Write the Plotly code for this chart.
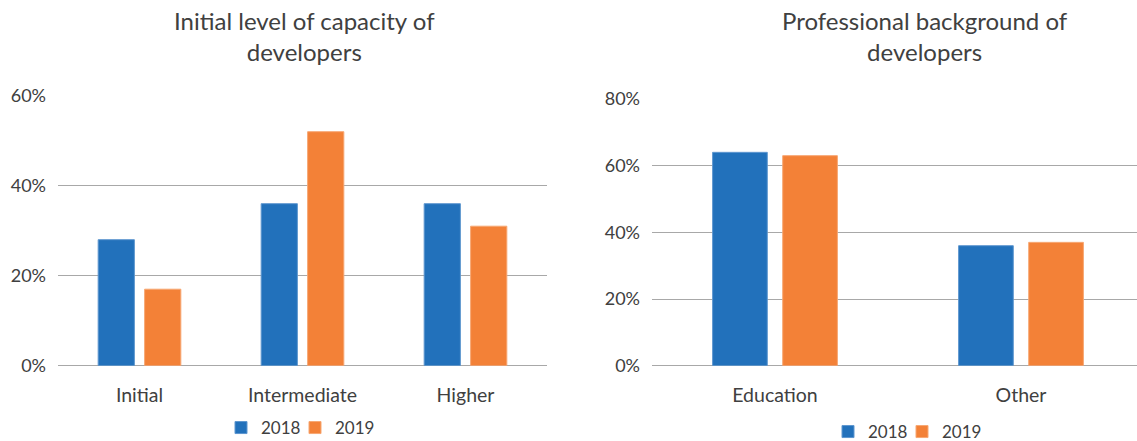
import plotly.graph_objects as go

# Left chart data
cap_categories = ["Initial", "Intermediate", "Higher"]
cap_2018 = [28, 36, 36]
cap_2019 = [17, 52, 31]
cap_ticks = [0, 20, 40, 60]
cap_ticktext = ["0%", "20%", "40%", "60%"]

# Right chart data
bg_categories = ["Education", "Other"]
bg_2018 = [64, 36]
bg_2019 = [63, 37]
bg_ticks = [0, 20, 40, 60, 80]
bg_ticktext = ["0%", "20%", "40%", "60%", "80%"]

left_title = "Initial level of capacity of<br>developers"
right_title = "Professional background of<br>developers"

BLUE = "#2271BB"
ORANGE = "#F38137"
BLUE_EDGE = "#5E97CF"
ORANGE_EDGE = "#F7A773"
FONT = "Lato"
TXT = "#404040"
GRID = "#A8A8A8"

fig = go.Figure()

fig.add_trace(go.Bar(x=cap_categories, y=cap_2018, name="2018", xaxis="x", yaxis="y",
                     marker=dict(color=BLUE, line=dict(color=BLUE_EDGE, width=1)),
                     legend="legend", showlegend=True))
fig.add_trace(go.Bar(x=cap_categories, y=cap_2019, name="2019", xaxis="x", yaxis="y",
                     marker=dict(color=ORANGE, line=dict(color=ORANGE_EDGE, width=1)),
                     legend="legend2", showlegend=True))
fig.add_trace(go.Bar(x=bg_categories, y=bg_2018, name="2018", xaxis="x2", yaxis="y2",
                     marker=dict(color=BLUE, line=dict(color=BLUE_EDGE, width=1)),
                     legend="legend3", showlegend=True))
fig.add_trace(go.Bar(x=bg_categories, y=bg_2019, name="2019", xaxis="x2", yaxis="y2",
                     marker=dict(color=ORANGE, line=dict(color=ORANGE_EDGE, width=1)),
                     legend="legend4", showlegend=True))

W, H = 1137, 441
ybot = (H - 365.7) / H

axis_common_y = dict(showgrid=True, gridcolor=GRID, gridwidth=1.3,
                     zeroline=True, zerolinecolor=GRID, zerolinewidth=1.3,
                     showline=False, ticks="", tickfont=dict(family=FONT, size=18, color=TXT),
                     ticklabelstandoff=11, tickmode="array", fixedrange=True)
axis_common_x = dict(showgrid=False, showline=False, ticks="", type="category",
                     tickfont=dict(family=FONT, size=19.5, color=TXT), ticklabelstandoff=16)

legend_common = dict(orientation="h", xanchor="left", yanchor="middle",
                     font=dict(family=FONT, size=17, color=TXT), bgcolor="rgba(0,0,0,0)")

fig.update_layout(
    width=W, height=H,
    showlegend=True,
    margin=dict(l=0, r=0, t=0, b=0, autoexpand=False),
    paper_bgcolor="white", plot_bgcolor="white",
    barmode="group", bargap=0.43, bargroupgap=0.22,
    xaxis=dict(domain=[58 / W, 547 / W], anchor="y", range=[-0.5, 2.5], **axis_common_x),
    yaxis=dict(domain=[ybot, (H - 95.7) / H], anchor="x", range=[0, 60],
               tickvals=cap_ticks, ticktext=cap_ticktext, **axis_common_y),
    xaxis2=dict(domain=[652 / W, 1.0], anchor="y2", range=[-0.5, -0.5 + 485 / 246], **axis_common_x),
    yaxis2=dict(domain=[ybot, (H - 99) / H], anchor="x2", range=[0, 80],
                tickvals=bg_ticks, ticktext=bg_ticktext, **axis_common_y),
    legend=dict(x=(241 - 20) / W, y=13 / H, **legend_common),
    legend2=dict(x=(315 - 20) / W, y=13 / H, **legend_common),
    legend3=dict(x=(848 - 20) / W, y=9 / H, **legend_common),
    legend4=dict(x=(922 - 20) / W, y=9 / H, **legend_common),
    annotations=[
        dict(text=left_title, x=304 / W, y=(H - 36) / H, xref="paper", yref="paper",
             xanchor="center", yanchor="middle", showarrow=False,
             font=dict(family=FONT, size=24, color=TXT)),
        dict(text=right_title, x=925 / W, y=(H - 36) / H, xref="paper", yref="paper",
             xanchor="center", yanchor="middle", showarrow=False,
             font=dict(family=FONT, size=24, color=TXT)),
    ],
)

fig.write_html("out.html")
